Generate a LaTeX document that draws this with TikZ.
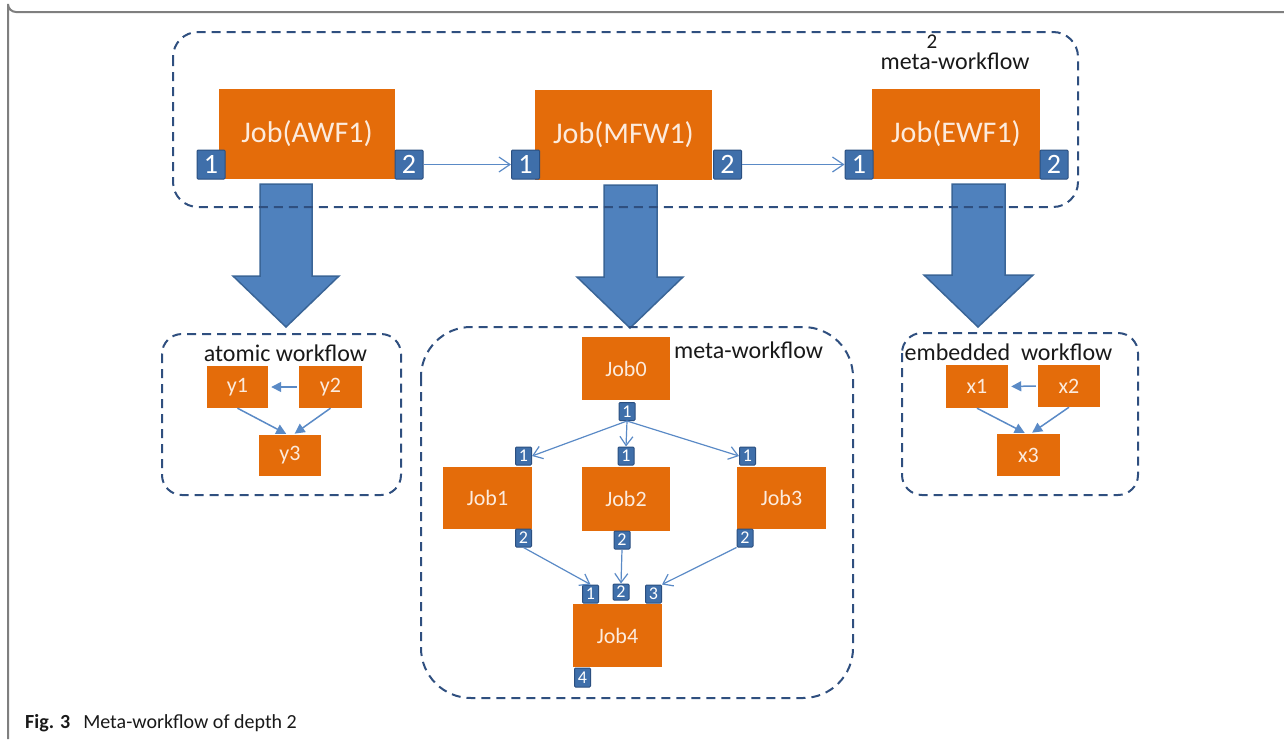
\documentclass[tikz,border=0pt]{standalone}
\usepackage{fontspec}
\setmainfont{Carlito}
\usetikzlibrary{arrows.meta}
\definecolor{jobor}{HTML}{E46C0A}
\definecolor{jobtxt}{HTML}{FCEBDD}
\definecolor{portfill}{HTML}{3F6FAA}
\definecolor{portdraw}{HTML}{2B4F80}
\definecolor{conn}{HTML}{5A8AC6}
\definecolor{dashc}{HTML}{2F4F7F}
\definecolor{barrowf}{HTML}{4F81BD}
\definecolor{barrowd}{HTML}{3A6597}
\definecolor{framec}{HTML}{7F7F7F}
\tikzset{
  job/.style={fill=jobor, inner sep=0pt, text=jobtxt},
  bigjob/.style={job, font=\fontsize{30}{36}\selectfont},
  smalljob/.style={job, font=\fontsize{22}{26}\selectfont},
  port/.style={fill=portfill, draw=portdraw, line width=1pt, inner sep=0pt, text=white, rounded corners=1pt},
  bigport/.style={port, minimum width=28pt, minimum height=29pt, font=\fontsize{28}{30}\selectfont},
  smallport/.style={port, minimum width=16pt, minimum height=18pt, font=\fontsize{18}{20}\selectfont},
  wfbox/.style={draw=dashc, line width=2pt, dash pattern=on 9pt off 6pt},
  wflabel/.style={inner sep=0pt, text=black!90, font=\fontsize{24}{28}\selectfont},
  bigconn/.style={draw=conn, line width=1.2pt, -{Straight Barb[length=11pt,width=15pt]}},
  midconn/.style={draw=conn, line width=1.2pt, -{Straight Barb[length=9pt,width=13pt]}},
  filconn/.style={draw=conn, line width=1.5pt, -{Triangle[length=10pt,width=10pt]}},
  blockarrow/.style={fill=barrowf, draw=barrowd, line width=1.5pt, line join=miter}
}
\begin{document}
\begin{tikzpicture}[x=1pt,y=-1pt]
\useasboundingbox (0,0) rectangle (1284,739);
% outer frame
\draw[framec, line width=2pt] (1284,12) -- (16,12) arc[start angle=90, end angle=180, radius=8] -- (8,739);

% block arrows (drawn first, dashed boxes over them)
\draw[blockarrow] (260,184) -- (312,184) -- (312,276) -- (339,276) -- (286,327) -- (233,276) -- (260,276) -- cycle;
\draw[blockarrow] (604,185) -- (657,185) -- (657,277) -- (683,277) -- (630,328) -- (577,277) -- (604,277) -- cycle;
\draw[blockarrow] (952,184) -- (1005,184) -- (1005,275) -- (1033,275) -- (978,327) -- (924,275) -- (952,275) -- cycle;

% dashed workflow boxes
\draw[wfbox, rounded corners=25pt] (173,32) rectangle (1078,207);
\draw[wfbox, rounded corners=20pt] (162,334) rectangle (401,495);
\draw[wfbox, rounded corners=20pt] (902,333) rectangle (1138,495);
\draw[wfbox, rounded corners=50pt] (421,327) rectangle (853,698);

% top level
\node[wflabel, anchor=base] (mw2) at (955,69) {meta-workflow};
\node[wflabel, anchor=south, font=\fontsize{21}{24}\selectfont] (sup2) at ([yshift=3pt]mw2.north -| 932,0) {2};

\node[bigjob, minimum width=176pt, minimum height=90pt] (awf) at (307,134) {Job(AWF1)};
\node[bigjob, minimum width=177pt, minimum height=90pt] (mfw) at (623.5,134.5) {Job(MFW1)};
\node[bigjob, minimum width=168pt, minimum height=90pt] (ewf) at (956,134) {Job(EWF1)};

\node[bigport] (a1) at (211,164.5) {1};
\node[bigport] (a2) at (409,164.5) {2};
\node[bigport] (m1) at (525.5,164.5) {1};
\node[bigport] (m2) at (727.5,164.5) {2};
\node[bigport] (e1) at (859,164.5) {1};
\node[bigport] (e2) at (1054,164.5) {2};

\draw[bigconn] (a2.east) -- (m1.west);
\draw[bigconn] (m2.east) -- (e1.west);

% atomic workflow
\node[wflabel] (atl) at (285.5,353) {atomic workflow};
\node[smalljob, minimum width=61pt, minimum height=42pt] (y1) at (237.5,387) {y1};
\node[smalljob, minimum width=63pt, minimum height=42pt] (y2) at (330.5,387) {y2};
\node[smalljob, minimum width=62pt, minimum height=41pt] (y3) at (290,455.5) {y3};
\draw[filconn, shorten >=3pt, shorten <=2pt] (y2.west) -- (y1.east);
\draw[filconn, shorten >=2pt] (y1.south) -- ([xshift=-2pt]y3.north);
\draw[filconn, shorten >=2pt] (y2.south) -- ([xshift=3pt]y3.north);

% embedded workflow
\node[wflabel] (eml) at (1008.5,352) {embedded\ \ workflow};
\node[smalljob, minimum width=62pt, minimum height=43pt] (x1) at (977,386.5) {x1};
\node[smalljob, minimum width=62pt, minimum height=42pt] (x2) at (1069,386) {x2};
\node[smalljob, minimum width=63pt, minimum height=42pt] (x3) at (1028.5,455) {x3};
\draw[filconn, shorten >=3pt, shorten <=2pt] (x2.west) -- (x1.east);
\draw[filconn, shorten >=2pt] (x1.south) -- ([xshift=-2pt]x3.north);
\draw[filconn, shorten >=2pt] (x2.south) -- ([xshift=2pt]x3.north);

% inner meta-workflow
\node[wflabel] (mwl) at (748.5,350) {meta-workflow};
\node[smalljob, minimum width=88pt, minimum height=63pt] (j0) at (626,368.5) {Job0};
\node[smalljob, minimum width=89pt, minimum height=62pt] (j1) at (487.5,498) {Job1};
\node[smalljob, minimum width=88pt, minimum height=64pt] (j2) at (626,499) {Job2};
\node[smalljob, minimum width=89pt, minimum height=62pt] (j3) at (781.5,498) {Job3};
\node[smalljob, minimum width=89pt, minimum height=63pt] (j4) at (617.5,635.5) {Job4};

\node[smallport] (p0) at (627,411.5) {1};
\node[smallport] (p1a) at (523.5,456) {1};
\node[smallport] (p2a) at (626,456) {1};
\node[smallport] (p3a) at (747.5,456) {1};
\node[smallport] (p1b) at (523.5,538) {2};
\node[smallport] (p2b) at (622,540) {2};
\node[smallport] (p3b) at (745,538) {2};
\node[smallport] (p4a) at (590.5,594) {1};
\node[smallport, minimum height=16pt] (p4b) at (621,592) {2};
\node[smallport] (p4c) at (653.5,594) {3};
\node[smallport, minimum height=19pt] (p4d) at (582.5,677.5) {4};

\draw[midconn] (p0.south) -- (p1a.east);
\draw[midconn] (p0.south) -- (p2a.north);
\draw[midconn] (p0.south) -- (p3a.west);
\draw[midconn] (p1b.south) -- (p4a.north);
\draw[midconn] (p2b.south) -- (p4b.north);
\draw[midconn] (p3b.south west) -- (p4c.north east);

% caption
\node[anchor=base west, inner sep=0pt, text=black!90, font=\fontsize{20}{24}\selectfont] (cap) at (25,728) {\textbf{Fig. 3}\hspace{13pt}Meta-workflow of depth 2};
\end{tikzpicture}
\end{document}
